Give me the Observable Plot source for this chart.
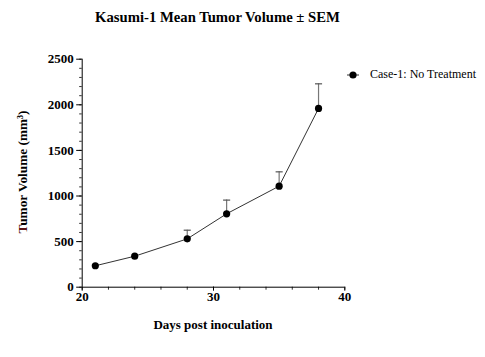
<!DOCTYPE html>
<html>
<head>
<meta charset="utf-8">
<script src="https://cdn.jsdelivr.net/npm/d3@7"></script>
<script src="https://cdn.jsdelivr.net/npm/@observablehq/plot@0.6"></script>
<style>
  body { margin: 0; background: #fff; }
  #wrap { position: relative; width: 485px; height: 357px; font-family: "Liberation Serif", "Times New Roman", serif; color: #000; }
  #title { position: absolute; left: 0; top: 9px; width: 435px; text-align: center; font-weight: bold; font-size: 14.7px; }
  #chart { position: absolute; left: 0; top: 40px; }
  #chart svg text { font-family: "Liberation Serif", serif !important; font-weight: bold; }
  #ylabel { position: absolute; left: 23px; top: 172px; transform: translate(-50%, -50%) rotate(-90deg); white-space: nowrap; font-weight: bold; font-size: 13.3px; }
  #xlabel { position: absolute; left: 213px; top: 317px; transform: translateX(-50%); white-space: nowrap; font-weight: bold; font-size: 13px; }
  #legend { position: absolute; left: 345px; top: 67px; display: flex; align-items: center; font-size: 12px; white-space: nowrap; }
</style>
</head>
<body>
<div id="wrap">
  <div id="title">Kasumi-1 Mean Tumor Volume ± SEM</div>
  <div id="chart"></div>
  <div id="ylabel"><span style="color:#5a1414">T</span>umor Volume (mm³)</div>
  <div id="xlabel">Days post inoculation</div>
  <div id="legend">
    <svg width="16" height="10" style="margin-right:9px"><line x1="2" x2="14" y1="5" y2="5" stroke="#333" stroke-width="1"/><circle cx="8" cy="5" r="3.6" fill="#000"/></svg>
    <span>Case-1: No Treatment</span>
  </div>
</div>
<script>
const days = [21, 24, 28, 31, 35, 38];
const meanVolume = [235, 340, 530, 805, 1108, 1960];
const sem = [0, 0, 95, 150, 157, 270];
const seriesName = "Case-1: No Treatment";
const xMajorTicks = [20, 30, 40];
const yMajorTicks = [0, 500, 1000, 1500, 2000, 2500];

const data = days.map((d, i) => ({day: d, mean: meanVolume[i], top: meanVolume[i] + sem[i], series: seriesName}));
const errData = data.filter(d => d.top > d.mean);

const font = "Liberation Serif, serif";
const txt = {fontFamily: font, fontWeight: "bold", fontSize: 13, fill: "#000"};
const plot = Plot.plot({
  width: 485,
  height: 317,
  marginLeft: 81.7,
  marginRight: 140.7,
  marginTop: 18.7,
  marginBottom: 70.3,
  style: {fontFamily: font, fontSize: "13px", fontWeight: "bold", color: "#000", background: "transparent"},
  x: {domain: [20, 40]},
  y: {domain: [0, 2500]},
  marks: [
    Plot.axisY({ticks: d3.range(0, 2501, 100), tickSize: 2.5, tickFormat: () => "", label: null, stroke: "#333"}),
    Plot.axisY({ticks: yMajorTicks, tickSize: 5.5, tickPadding: 3, tickFormat: d => String(d), label: null, stroke: "#000", ...txt}),
    Plot.axisX({ticks: d3.range(20, 41, 2), tickSize: 3, tickFormat: () => "", label: null, stroke: "#333"}),
    Plot.axisX({ticks: xMajorTicks, tickSize: 4, tickPadding: 1, tickFormat: d => String(d), label: null, stroke: "#000", ...txt}),
    Plot.ruleX([20], {y1: 0, y2: 2500, stroke: "#000"}),
    Plot.ruleY([0], {x1: 20, x2: 40, stroke: "#000"}),
    Plot.ruleX(errData, {x: "day", y1: "mean", y2: "top", stroke: "#777", strokeWidth: 1.2}),
    Plot.link(errData, {x1: d => d.day - 0.27, x2: d => d.day + 0.27, y1: "top", y2: "top", stroke: "#555", strokeWidth: 1.2}),
    Plot.line(data, {x: "day", y: "mean", stroke: "#333", strokeWidth: 1}),
    Plot.dot(data, {x: "day", y: "mean", r: 3.6, fill: "#000", stroke: "none"})
  ]
});
document.getElementById("chart").appendChild(plot);
</script>
</body>
</html>
